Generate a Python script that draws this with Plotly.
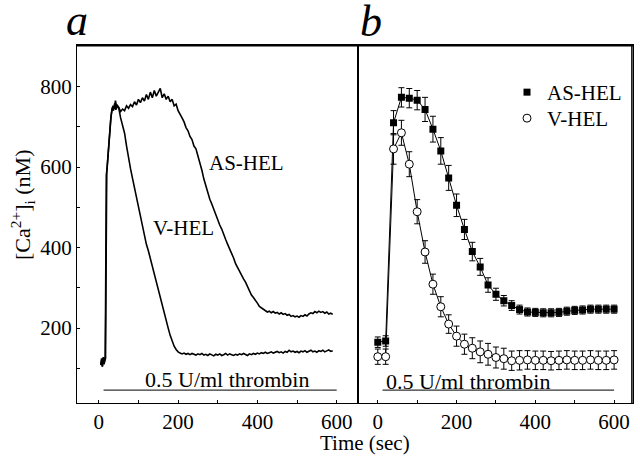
import plotly.graph_objects as go

# ---------------- data ----------------
# Panel a: continuous traces (time in s, [Ca2+]i in nM)
a_as_early_t = [5, 7, 9, 11, 13, 15, 16, 17, 18, 19, 21, 24, 27, 30, 33, 36, 39, 42, 45]
a_as_early_v = [110, 125, 104, 128, 112, 120, 130, 250, 450, 580, 600, 640, 690, 718, 740, 752, 745, 765, 748]
a_v_early_t = [5, 7, 9, 11, 13, 15, 17, 18, 19, 20, 22, 25, 28, 31, 34, 37, 40, 43, 46]
a_v_early_v = [108, 120, 105, 124, 110, 118, 125, 300, 520, 585, 610, 655, 700, 728, 748, 740, 758, 742, 755]
a_grid_t = list(range(50, 595, 5))
a_as_v = [748, 738, 744, 740, 752, 746, 755, 750, 762, 754, 768, 760, 772, 764, 780, 768, 786, 772, 790, 776,
          784, 795, 772, 782, 768, 776, 762, 768, 752, 756, 740, 732, 722, 712, 698, 690, 676, 668, 652, 645,
          628, 612, 592, 570, 552, 538, 520, 508, 494, 484, 470, 456, 446, 430, 420, 408, 398, 384, 374, 360,
          350, 338, 330, 322, 314, 302, 294, 282, 276, 270, 262, 254, 250, 246, 244, 240, 242, 238, 241, 237,
          239, 235, 238, 234, 236, 232, 234, 229, 231, 228, 230, 227, 231, 229, 233, 230, 235, 238, 236, 241,
          238, 242, 239, 241, 237, 240, 235, 237, 234]
a_v_v = [748, 722, 706, 684, 652, 620, 596, 572, 548, 522, 498, 472, 452, 428, 408, 392, 372, 354, 336, 316,
         298, 278, 258, 240, 220, 200, 182, 166, 155, 147, 141, 138, 136, 138, 135, 137, 134, 137, 135, 133,
         136, 134, 137, 133, 135, 132, 136, 134, 131, 135, 133, 136, 132, 134, 137, 133, 136, 134, 132, 135,
         133, 136, 134, 137, 135, 132, 136, 134, 137, 135, 138, 136, 139, 137, 140, 137, 139, 141, 138, 140,
         142, 139, 141, 138, 142, 140, 145, 141, 143, 140, 142, 139, 143, 141, 144, 140, 142, 145, 141, 143,
         140, 144, 142, 145, 141, 143, 146, 142, 144]

# Panel b: mean +/- error, every 20 s
b_t = list(range(0, 601, 20))
b_as = [165, 168, 710, 773, 771, 766, 743, 694, 640, 573, 505, 445, 390, 352, 307, 284, 268, 256, 246, 240,
        239, 238, 238, 239, 242, 244, 245, 247, 247, 247, 247]
b_as_err = [13, 13, 30, 24, 24, 24, 30, 32, 33, 31, 28, 25, 23, 21, 18, 15, 13, 12, 11, 10,
            10, 10, 10, 10, 10, 10, 10, 10, 10, 10, 10]
b_v = [129, 129, 645, 685, 607, 489, 389, 309, 253, 210, 180, 160, 150, 141, 135, 127, 124, 119, 120, 121,
       120, 120, 119, 120, 121, 120, 120, 121, 120, 120, 121]
b_v_err = [19, 19, 38, 31, 31, 30, 28, 25, 25, 23, 25, 25, 26, 27, 27, 26, 26, 24, 24, 23,
           23, 23, 23, 23, 23, 23, 23, 23, 23, 23, 23]

thrombin_t = [12, 600]
thrombin_level = [46, 46]

x_tickvals = [0, 100, 200, 300, 400, 500, 600]
x_ticktext = ["0", "", "200", "", "400", "", "600"]
y_tickvals = [100, 200, 300, 400, 500, 600, 700, 800]
y_ticktext = ["", "200", "", "400", "", "600", "", "800"]

# ---------------- figure ----------------
FONT = "Liberation Serif"
fig = go.Figure()

as_t = a_as_early_t + a_grid_t
as_v = a_as_early_v + a_as_v
v_t = a_v_early_t + a_grid_t
v_v = a_v_early_v + a_v_v

fig.add_trace(go.Scatter(x=as_t, y=as_v, mode="lines", line=dict(color="black", width=1.6),
                         showlegend=False, xaxis="x", yaxis="y"))
fig.add_trace(go.Scatter(x=v_t, y=v_v, mode="lines", line=dict(color="black", width=1.6),
                         showlegend=False, xaxis="x", yaxis="y"))
fig.add_trace(go.Scatter(x=thrombin_t, y=thrombin_level, mode="lines", line=dict(color="#333", width=1.2),
                         showlegend=False, xaxis="x", yaxis="y"))

# panel b
fig.add_trace(go.Scatter(x=b_t, y=b_as, mode="lines", line=dict(color="black", width=1),
                         showlegend=False, xaxis="x2", yaxis="y2"))
fig.add_trace(go.Scatter(x=b_t, y=b_v, mode="lines", line=dict(color="black", width=1),
                         showlegend=False, xaxis="x2", yaxis="y2"))
fig.add_trace(go.Scatter(x=b_t, y=b_as, mode="markers", name="AS-HEL", legend="legend",
                         marker=dict(symbol="square", size=7, color="black"),
                         error_y=dict(type="data", array=b_as_err, color="black", thickness=1, width=3),
                         xaxis="x2", yaxis="y2"))
fig.add_trace(go.Scatter(x=b_t, y=b_v, mode="markers", name="V-HEL", legend="legend2",
                         marker=dict(symbol="circle", size=8, color="white", line=dict(color="black", width=1)),
                         error_y=dict(type="data", array=b_v_err, color="black", thickness=1, width=3),
                         xaxis="x2", yaxis="y2"))
fig.add_trace(go.Scatter(x=thrombin_t, y=thrombin_level, mode="lines", line=dict(color="#333", width=1.2),
                         showlegend=False, xaxis="x2", yaxis="y2"))

tickfont = dict(family=FONT, size=21, color="black")
axcommon = dict(showline=True, mirror=True, linecolor="black", linewidth=1.2, showgrid=False, zeroline=False,
                ticks="inside", ticklen=3, tickcolor="black", tickfont=tickfont)

split = (357.7 - 77) / 556

def px(xp):
    return (xp - 77) / 556

def py(yp):
    return (403 - yp) / 358

legfont = dict(family=FONT, size=21, color="black")
frame = dict(color="black", width=1.5)
fig.update_layout(
    width=640, height=458,
    margin=dict(l=77, r=7, t=45, b=55),
    paper_bgcolor="white", plot_bgcolor="white",
    xaxis=dict(domain=[0, split], range=[-55, 653], anchor="y",
               tickmode="array", tickvals=x_tickvals, ticktext=x_ticktext, **axcommon),
    yaxis=dict(domain=[0, 1], range=[14, 903], anchor="x",
               tickmode="array", tickvals=y_tickvals, ticktext=y_ticktext, **axcommon),
    xaxis2=dict(domain=[split, 1], range=[-51, 648], anchor="y2",
                tickmode="array", tickvals=x_tickvals, ticktext=x_ticktext, **axcommon),
    yaxis2=dict(domain=[0, 1], range=[14, 903], anchor="x2", showticklabels=False,
                showline=True, mirror=True, linecolor="black", linewidth=1.2, showgrid=False,
                zeroline=False, ticks=""),
    legend=dict(x=px(507), y=py(72), xanchor="left", yanchor="top", font=legfont,
                bgcolor="rgba(0,0,0,0)", itemwidth=30),
    legend2=dict(x=px(507), y=py(98), xanchor="left", yanchor="top", font=legfont,
                 bgcolor="rgba(0,0,0,0)", itemwidth=30),
    showlegend=True,
    shapes=[
        dict(type="line", xref="paper", yref="paper", x0=0, x1=1, y0=0.998, y1=0.998, layer="above", line=frame),
        dict(type="line", xref="paper", yref="paper", x0=0.998, x1=0.998, y0=0, y1=1, layer="above", line=frame),
    ],
)

txt = dict(family=FONT, size=21, color="black")
txt22 = dict(family=FONT, size=22, color="black")
C = dict(showarrow=False, xanchor="center", yanchor="middle")
ann = [
    dict(x=372, y=610, xref="x", yref="y", text="AS-HEL", font=txt, **C),
    dict(x=214, y=448, xref="x", yref="y", text="V-HEL", font=txt, **C),
    dict(x=323, y=72, xref="x", yref="y", text="0.5 U/ml thrombin", font=txt22, **C),
    dict(x=228, y=68, xref="x2", yref="y2", text="0.5 U/ml thrombin", font=txt22, **C),
    dict(x=px(365), y=py(443), xref="paper", yref="paper", text="Time (sec)", font=txt, **C),
    dict(x=px(22), y=py(205), xref="paper", yref="paper", text="[Ca<sup>2+</sup>]<sub>i</sub> (nM)",
         textangle=-90, font=dict(family=FONT, size=22, color="black"), **C),
    dict(x=px(77), y=py(20), xref="paper", yref="paper", text="<i>a</i>",
         font=dict(family=FONT, size=44, color="black"), **C),
    dict(x=px(371), y=py(21), xref="paper", yref="paper", text="<i>b</i>",
         font=dict(family=FONT, size=44, color="black"), **C),
]
fig.update_layout(annotations=ann)

fig.write_html("out.html", config={"displayModeBar": False},
               post_script="document.body.style.margin='0';document.body.style.padding='0';"
                           "document.body.style.overflow='hidden';")
